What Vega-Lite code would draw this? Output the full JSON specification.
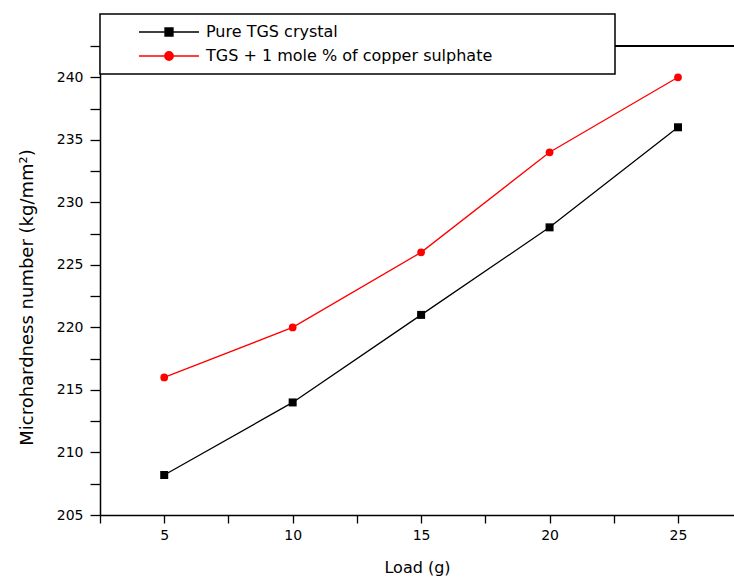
{
  "$schema": "https://vega.github.io/schema/vega-lite/v6.json",
  "autosize": "none",
  "width": 634,
  "height": 469,
  "padding": {"left": 100, "top": 46, "right": 0, "bottom": 62},
  "background": "white",
  "config": {
    "view": {"stroke": null},
    "font": "DejaVu Sans",
    "axis": {"grid": false, "domainColor": "black", "tickColor": "black", "labelColor": "black", "titleColor": "black", "domainWidth": 1.5, "tickWidth": 1.3, "labelFont": "DejaVu Sans", "titleFont": "DejaVu Sans", "titleFontWeight": "normal", "labelOverlap": false, "labelFontSize": 14}
  },
  "data": {
    "values": [
      {"load": 5, "hardness": 208.2, "series": "Pure TGS crystal"},
      {"load": 10, "hardness": 214, "series": "Pure TGS crystal"},
      {"load": 15, "hardness": 221, "series": "Pure TGS crystal"},
      {"load": 20, "hardness": 228, "series": "Pure TGS crystal"},
      {"load": 25, "hardness": 236, "series": "Pure TGS crystal"},
      {"load": 5, "hardness": 216, "series": "TGS + 1 mole % of copper sulphate"},
      {"load": 10, "hardness": 220, "series": "TGS + 1 mole % of copper sulphate"},
      {"load": 15, "hardness": 226, "series": "TGS + 1 mole % of copper sulphate"},
      {"load": 20, "hardness": 234, "series": "TGS + 1 mole % of copper sulphate"},
      {"load": 25, "hardness": 240, "series": "TGS + 1 mole % of copper sulphate"}
    ]
  },
  "encoding": {
    "x": {
      "field": "load", "type": "quantitative",
      "scale": {"domain": [2.5, 27.18], "nice": false, "zero": false},
      "axis": {
        "title": "Load (g)", "titleFontSize": 16, "titlePadding": 17,
        "values": [2.5, 5, 7.5, 10, 12.5, 15, 17.5, 20, 22.5, 25],
        "labelExpr": "datum.value % 5 === 0 ? datum.label : ''",
        "tickSize": 8, "labelPadding": 5,
        "encode": {"ticks": {"update": {"y2": {"signal": "datum.value % 5 === 0 ? 8 : 5"}}}}
      }
    },
    "y": {
      "field": "hardness", "type": "quantitative",
      "scale": {"domain": [205, 242.5], "nice": false, "zero": false},
      "axis": {
        "title": "Microhardness number (kg/mm²)", "titleFontSize": 18,
        "titleX": -64, "titleY": 251, "titleAngle": -90, "titleAlign": "center", "titleBaseline": "bottom",
        "values": [205, 207.5, 210, 212.5, 215, 217.5, 220, 222.5, 225, 227.5, 230, 232.5, 235, 237.5, 240, 242.5],
        "labelExpr": "datum.value % 5 === 0 ? datum.label : ''",
        "tickSize": 10, "labelPadding": 7,
        "encode": {"ticks": {"update": {"x2": {"signal": "datum.value % 5 === 0 ? -10 : -5"}}}}
      }
    },
    "color": {
      "field": "series", "type": "nominal",
      "scale": {"domain": ["Pure TGS crystal", "TGS + 1 mole % of copper sulphate"], "range": ["black", "red"]},
      "legend": {
        "orient": "none", "legendX": 0, "legendY": -32, "title": null,
        "fillColor": "white", "strokeColor": "black",
        "padding": 10, "labelFont": "DejaVu Sans", "labelFontSize": 16, "labelColor": "black", "labelLimit": 600,
        "symbolSize": 100, "labelOffset": 29, "rowPadding": 8, "symbolOffset": 51,
        "encode": {
          "legend": {"update": {"strokeWidth": {"value": 1.5}}},
          "symbols": {
            "update": {
              "shape": {"signal": "datum.value === 'Pure TGS crystal' ? 'M-6,0H6M-0.8,-0.8H0.8V0.8H-0.8ZM86.6,0' : 'M-6,0H6M0.85,0A0.85,0.85 0 1,1 -0.85,0A0.85,0.85 0 1,1 0.85,0ZM86.6,0'"},
              "fill": {"signal": "datum.value === 'Pure TGS crystal' ? 'black' : 'red'"},
              "stroke": {"signal": "datum.value === 'Pure TGS crystal' ? 'black' : 'red'"},
              "strokeWidth": {"value": 1.3},
              "opacity": {"value": 1}
            }
          }
        }
      }
    }
  },
  "layer": [
    {"mark": {"type": "rule", "strokeWidth": 1.5}, "encoding": {"x": {"datum": 2.5}, "x2": {"datum": 27.18}, "y": {"datum": 242.5}, "color": {"value": "black"}}},
    {"mark": {"type": "line", "strokeWidth": 1.3}},
    {
      "transform": [{"filter": "datum.series === 'Pure TGS crystal'"}],
      "mark": {"type": "point", "shape": "square", "filled": true, "size": 64, "opacity": 1}
    },
    {
      "transform": [{"filter": "datum.series !== 'Pure TGS crystal'"}],
      "mark": {"type": "point", "shape": "circle", "filled": true, "size": 60, "opacity": 1}
    }
  ]
}
